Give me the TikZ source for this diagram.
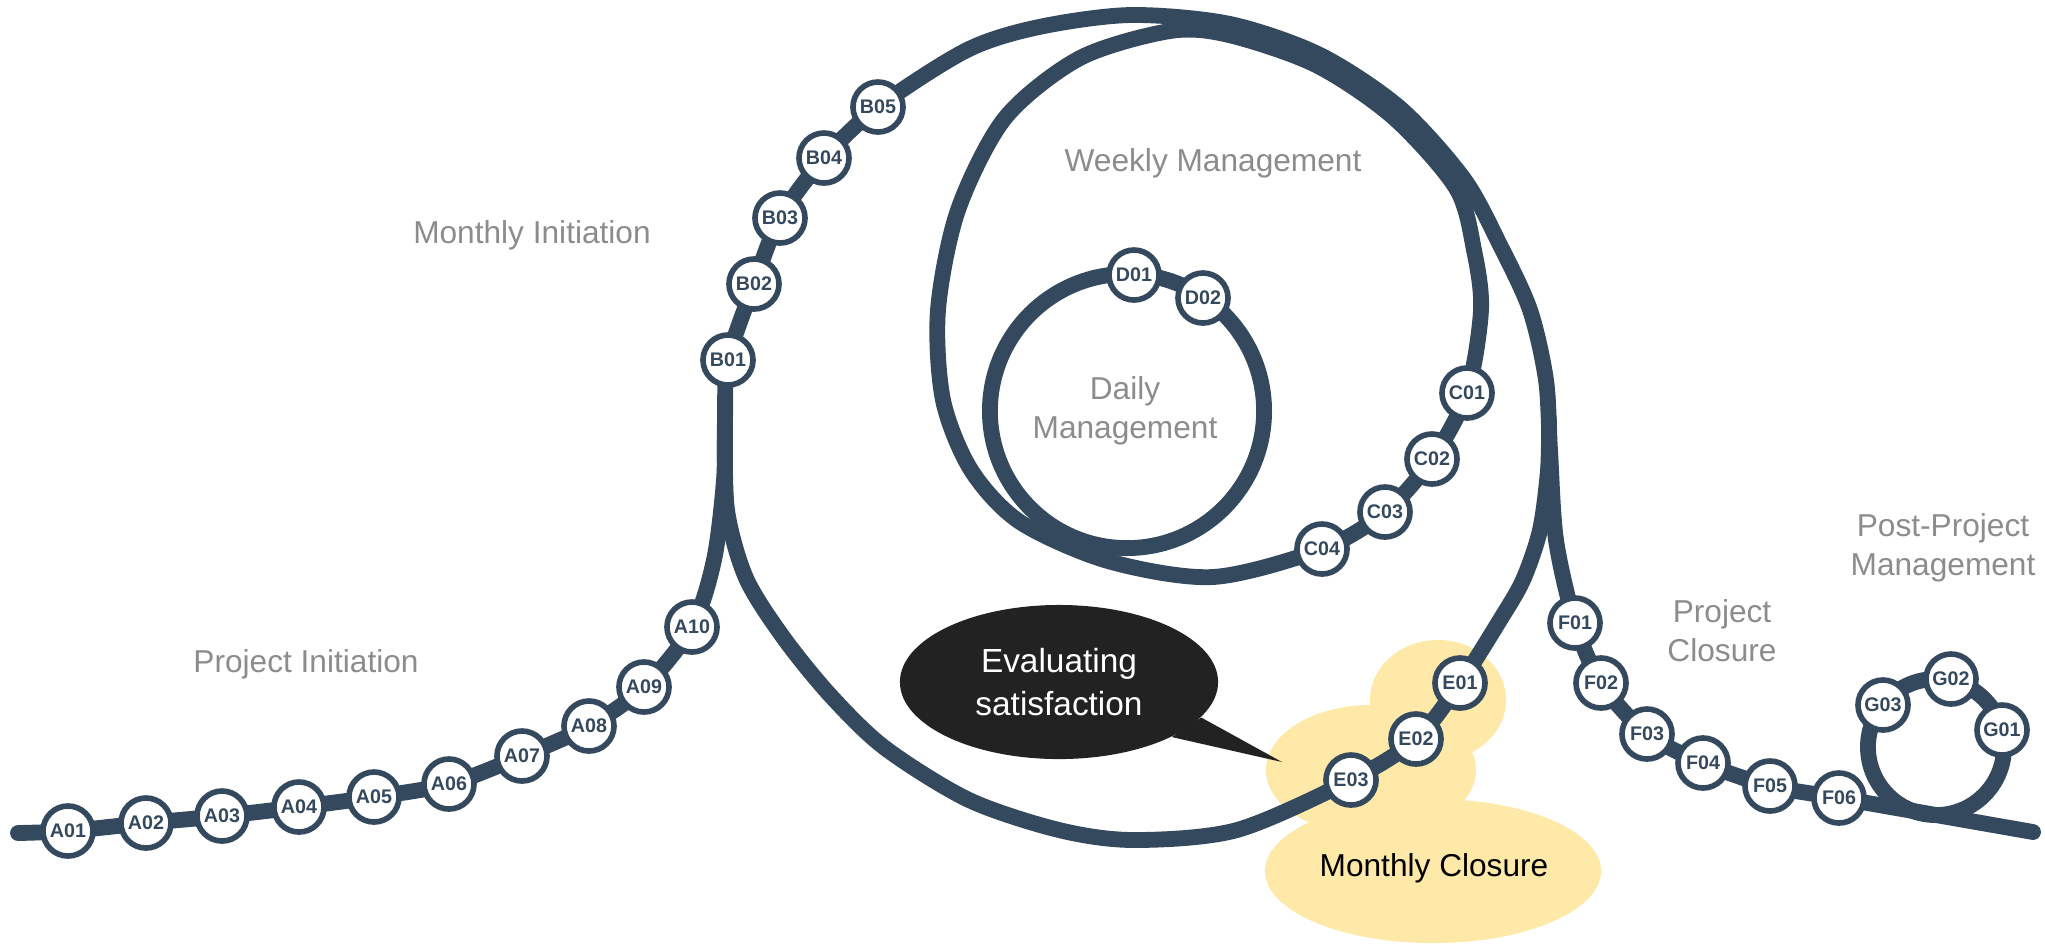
\documentclass[tikz,border=0pt]{standalone}
\usepackage{fontspec}
\setmainfont{Liberation Sans}
\usetikzlibrary{calc,shapes.geometric}
\definecolor{trackblue}{HTML}{34495E}
\definecolor{labelgray}{HTML}{8C8C8C}
\definecolor{cloudyellow}{HTML}{FFE9A8}
\definecolor{bubbleblack}{HTML}{222222}
\pgfdeclarelayer{clouds}
\pgfdeclarelayer{rails}
\pgfsetlayers{clouds,rails,main}
\tikzset{
	station/.style={circle, draw=trackblue, line width=1.6pt, fill=white, minimum size=0.5cm, inner sep=0pt, text=trackblue, font=\bfseries\fontsize{5.6}{5.6}\selectfont},
	rail/.style={draw=trackblue, line width=4.5pt, line cap=round, line join=round},
	phase/.style={text=labelgray, align=center, font=\fontsize{9}{11}\selectfont},
	bubble/.style={ellipse, fill=bubbleblack, text=white, align=center, minimum width=3.18cm, minimum height=1.54cm, inner sep=0pt, font=\fontsize{9.5}{12}\selectfont},
}

\begin{document}
\begin{tikzpicture}[x=0.01cm, y=-0.01cm]
		%%%%% START %%%%%
		\useasboundingbox (0,0) rectangle (2045,947);
		
		\coordinate (railstart) at (18,833);
		\coordinate (railend) at (2033,832);
		\coordinate (dailyc) at (1127,411);
		\coordinate (loopc) at (1936,747);
		\coordinate (evaltip) at (1282,762);
		
		\node[station] (A01) at (68,831) {A01};
		\node[station] (A02) at (146,823) {A02};
		\node[station] (A03) at (222,816) {A03};
		\node[station] (A04) at (299,807) {A04};
		\node[station] (A05) at (374,797) {A05};
		\node[station] (A06) at (449,784) {A06};
		\node[station] (A07) at (522,756) {A07};
		\node[station] (A08) at (589,726) {A08};
		\node[station] (A09) at (644,687) {A09};
		\node[station] (A10) at (692,627) {A10};
		
		\node[station] (B01) at (728,360) {B01};
		\node[station] (B02) at (754,284) {B02};
		\node[station] (B03) at (780,218) {B03};
		\node[station] (B04) at (824,158) {B04};
		\node[station] (B05) at (878,107) {B05};
		
		\node[station] (C01) at (1467,393) {C01};
		\node[station] (C02) at (1432,459) {C02};
		\node[station] (C03) at (1385,512) {C03};
		\node[station] (C04) at (1322,549) {C04};
		
		\node[station] (D01) at (1134,275) {D01};
		\node[station] (D02) at (1203,298) {D02};
		
		\node[station] (E01) at (1460,683) {E01};
		\node[station] (E02) at (1416,739) {E02};
		\node[station] (E03) at (1351,780) {E03};
		
		\node[station] (F01) at (1575,623) {F01};
		\node[station] (F02) at (1601,683) {F02};
		\node[station] (F03) at (1647,734) {F03};
		\node[station] (F04) at (1703,763) {F04};
		\node[station] (F05) at (1770,786) {F05};
		\node[station] (F06) at (1839,798) {F06};
		
		\node[station] (G01) at (2002,730) {G01};
		\node[station] (G02) at (1951,679) {G02};
		\node[station] (G03) at (1883,705) {G03};
		
		\node[phase] (projinit) at (306,664) {Project Initiation};
		\node[phase] (monthinit) at (532,235) {Monthly Initiation};
		\node[phase] (weekmgmt) at (1213,163) {Weekly Management};
		\node[phase] (dailymgmt) at (1125,411) {Daily\\Management};
		\node[phase] (projclose) at (1722,631) {Project\\Closure};
		\node[phase] (postproj) at (1943,548) {Post-Project\\Management};
		
		\node[bubble] (evalnote) at (1059,682) {Evaluating\\satisfaction};
		\fill[bubbleblack] (evalnote.-14) -- (evaltip) -- (evalnote.-26) -- cycle;
		
		\node[font=\fontsize{9}{11}\selectfont] (monthclose) at (1434,868) {Monthly Closure};
		
		\begin{pgfonlayer}{clouds}
			\fill[cloudyellow] (1438,700) ellipse[x radius=0.68cm, y radius=0.6cm];
			\fill[cloudyellow] (1371,770) ellipse[x radius=1.05cm, y radius=0.65cm];
			\fill[cloudyellow] (1433,871) ellipse[x radius=1.68cm, y radius=0.72cm];
		\end{pgfonlayer}
		
		\begin{pgfonlayer}{rails}
			% main line
			\draw[rail] plot[smooth] coordinates {(railstart) (A01) (A02) (A03) (A04) (A05) (A06) (A07) (A08) (A09) (A10) (714,560) (724,480) (725,420) (B01) (B02) (B03) (B04) (B05) (967,50) (1039,27) (1131,15) (1230,24) (1320,55) (1400,108) (1464,179) (1500,245) (1530,310) (1546,380) (1550,450) (1556,540) (F01) (F02) (F03) (F04) (F05) (F06) (railend)};
			% monthly loop
			\draw[rail] plot[smooth] coordinates {(725,430) (727,510) (746,578) (783,637) (830,695) (885,748) (969,800) (1059,830) (1134,840) (1237,830) (E03) (E02) (E01) (1500,620) (1523,580) (1540,530) (1548,470) (1549,420)};
			% weekly loop
			\draw[rail] plot[smooth cycle] coordinates {(1170,31) (1080,58) (1005,118) (958,210) (938,310) (943,400) (971,470) (1020,522) (1108,561) (1213,577) (C04) (C03) (C02) (C01) (1481,310) (1474,250) (1456,188) (1393,117) (1316,65) (1229,35)};
			% daily loop
			\draw[rail] (dailyc) circle[radius=1.37cm];
			% post-project loop
			\draw[rail] (loopc) circle[radius=0.68cm];
		\end{pgfonlayer}
		%%%%% END %%%%%
\end{tikzpicture}
\end{document}
